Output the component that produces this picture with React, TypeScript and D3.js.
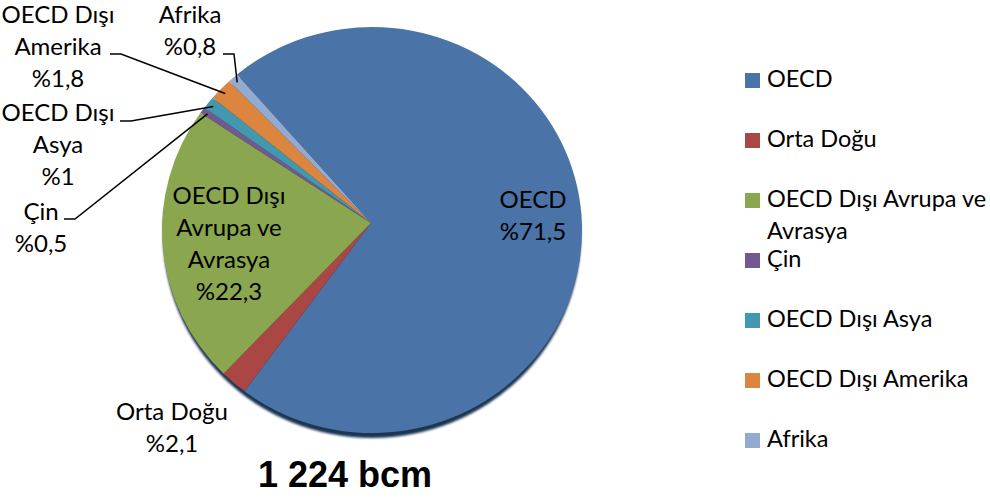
import * as d3 from "d3";

// chart data
const categories = [
  "OECD",
  "Orta Doğu",
  "OECD Dışı Avrupa ve Avrasya",
  "Çin",
  "OECD Dışı Asya",
  "OECD Dışı Amerika",
  "Afrika",
];
const shares = [71.5, 2.1, 22.3, 0.5, 1, 1.8, 0.8];
const shareLabels = ["%71,5", "%2,1", "%22,3", "%0,5", "%1", "%1,8", "%0,8"];
const colors = ["#4A73A8", "#AA4643", "#8AA64F", "#72598F", "#4299AF", "#DB853E", "#94AACF"];
const totalLabel = "1 224 bcm";

// data label layout: text lines, anchor, optional leader start
const labelLines = [
  ["OECD"],
  ["Orta Doğu"],
  ["OECD Dışı", "Avrupa ve", "Avrasya"],
  ["Çin"],
  ["OECD Dışı", "Asya"],
  ["OECD Dışı", "Amerika"],
  ["Afrika"],
];
const labelPos = [
  { x: 533, y: 208, leader: null },
  { x: 172, y: 420, leader: null },
  { x: 229, y: 204, leader: null },
  { x: 41, y: 220, leader: { x: 64, y: 219 } },
  { x: 58, y: 121, leader: { x: 120, y: 121 } },
  { x: 58, y: 23, leader: { x: 110, y: 54 } },
  { x: 190, y: 23, leader: { x: 223, y: 54 } },
];

const W = 990;
const H = 498;
const cx = 372;
const cy = 230;
const rx = 210;
const ry = 203;
const apex = { x: 371, y: 223 };
const font = "Lato, 'Open Sans', sans-serif";

const pt = (a: number, k = 1) => ({
  x: cx + rx * k * Math.sin(a),
  y: cy - ry * k * Math.cos(a),
});

export default function App() {
  const start = (-40 * Math.PI) / 180;
  const pie = d3
    .pie<number>()
    .sort(null)
    .startAngle(start)
    .endAngle(start + 2 * Math.PI)
    .value((d) => d);
  const arcs = pie(shares);

  const slicePath = (a0: number, a1: number) => {
    const p0 = pt(a0);
    const p1 = pt(a1);
    const large = a1 - a0 > Math.PI ? 1 : 0;
    const p = d3.path();
    p.moveTo(apex.x, apex.y);
    p.lineTo(p0.x, p0.y);
    return `${p.toString()} A${rx},${ry} 0 ${large} 1 ${p1.x},${p1.y} Z`;
  };

  const lineH = 32;

  return (
    <svg width={W} height={H} style={{ display: "block", position: "absolute", left: 0, top: 0 }}>
      <defs>
        <filter id="blur" x="-10%" y="-10%" width="120%" height="120%">
          <feGaussianBlur stdDeviation="1" />
        </filter>
      </defs>
      <rect width={W} height={H} fill="#fff" />
      {/* bottom shadow rim */}
      <ellipse cx={cx} cy={cy + 5} rx={rx - 1} ry={ry} fill="#1d3452" filter="url(#blur)" />
      <g>
        {arcs.map((a, i) => (
          <path key={i} d={slicePath(a.startAngle, a.endAngle)} fill={colors[i]} />
        ))}
      </g>
      {/* leader lines */}
      <g fill="none" stroke="#000" strokeWidth={1.5}>
        {arcs.map((a, i) => {
          const ld = labelPos[i].leader;
          if (!ld) return null;
          const mid = (a.startAngle + a.endAngle) / 2;
          const e = pt(mid, 0.97);
          const line = d3.line<[number, number]>();
          return (
            <path
              key={i}
              d={line([
                [ld.x, ld.y],
                [ld.x + 11, ld.y],
                [e.x, e.y],
              ]) || ""}
            />
          );
        })}
      </g>
      {/* data labels */}
      <g fontFamily={font} fontSize={24} fill="#000" textAnchor="middle">
        {labelLines.map((lines, i) => {
          const all = [...lines, shareLabels[i]];
          return (
            <text key={i} x={labelPos[i].x} y={labelPos[i].y}>
              {all.map((t, j) => (
                <tspan key={j} x={labelPos[i].x} dy={j === 0 ? 0 : lineH}>
                  {t}
                </tspan>
              ))}
            </text>
          );
        })}
      </g>
      <text
        x={345}
        y={487}
        textAnchor="middle"
        fontFamily="'Liberation Sans', Arial, sans-serif"
        fontWeight="bold"
        fontSize={36}
        fill="#000"
      >
        {totalLabel}
      </text>
      {/* legend */}
      <g fontFamily={font} fontSize={23.5} fill="#000">
        {categories.map((c, i) => {
          const base = 87 + i * 60;
          const words = c === "OECD Dışı Avrupa ve Avrasya" ? ["OECD Dışı Avrupa ve", "Avrasya"] : [c];
          return (
            <g key={c}>
              <rect x={745} y={base - 14} width={15} height={15} fill={colors[i]} />
              <text x={767} y={base}>
                {words.map((w, j) => (
                  <tspan key={j} x={767} dy={j === 0 ? 0 : lineH}>
                    {w}
                  </tspan>
                ))}
              </text>
            </g>
          );
        })}
      </g>
    </svg>
  );
}
